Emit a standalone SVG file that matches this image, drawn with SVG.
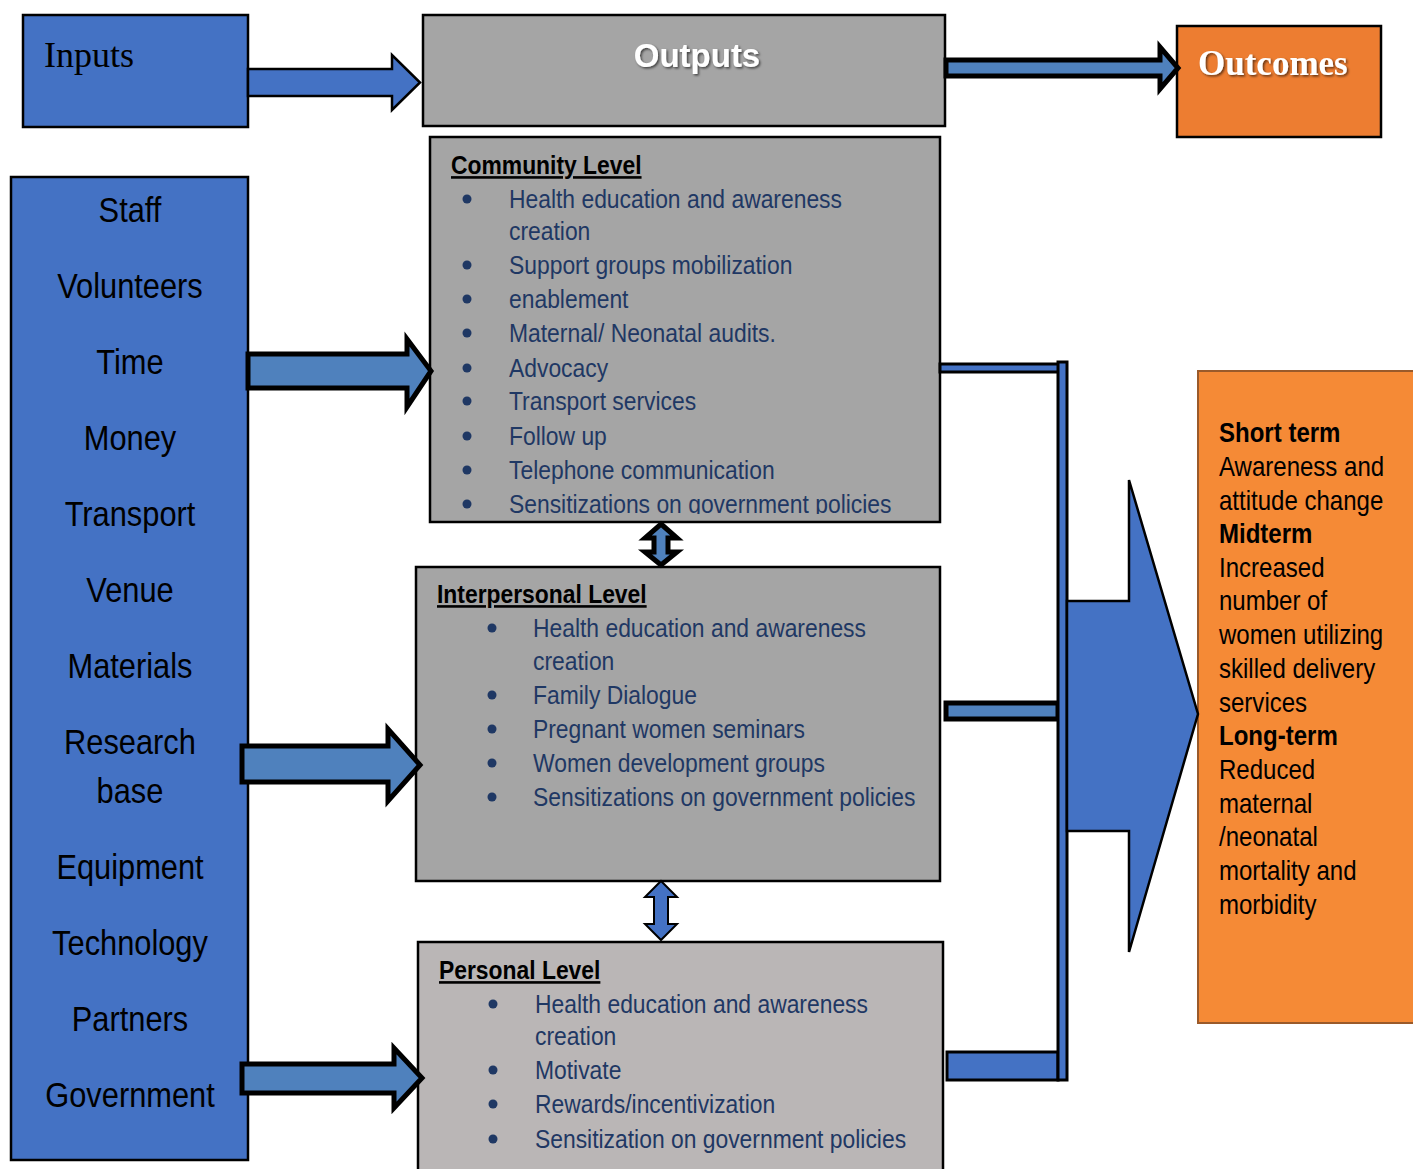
<svg xmlns="http://www.w3.org/2000/svg" width="1413" height="1169" viewBox="0 0 1413 1169">
<defs>
<style>
.n{font-family:"Liberation Sans",Arial,sans-serif;}
.inp{font-size:35px;fill:#000;text-anchor:middle;}
.t{font-size:26px;fill:#1F3864;}
.h{font-size:26px;font-weight:bold;fill:#000;text-decoration:underline;}
.o{font-size:27px;fill:#000;}
.ob{font-size:27px;fill:#000;font-weight:bold;}
.blt{fill:#1F3864;}
.box{stroke:#000;stroke-width:2.5;}
</style>
<filter id="sh" x="-10%" y="-10%" width="130%" height="130%"><feDropShadow dx="1.5" dy="1.5" stdDeviation="1" flood-color="#000" flood-opacity="0.6"/></filter>
<clipPath id="cc"><rect x="430" y="137" width="510" height="377"/></clipPath>
</defs>
<rect width="1413" height="1169" fill="#fff"/>

<g id="inputs">
<rect class="box" x="23" y="15" width="225" height="112" fill="#4472C4"/>
<text x="44" y="67" font-family="Liberation Serif,serif" font-size="36">Inputs</text>
</g>

<g id="outputs">
<rect class="box" x="423" y="15" width="522" height="111" fill="#A5A5A5"/>
<text x="697" y="67" text-anchor="middle" font-family="Liberation Sans,sans-serif" font-weight="bold" font-size="33" fill="#fff" filter="url(#sh)">Outputs</text>
</g>

<g id="outcomes">
<rect class="box" x="1177" y="26" width="204" height="111" fill="#ED7D31"/>
<text x="1198" y="75" font-family="Liberation Serif,serif" font-weight="bold" font-size="35" fill="#fff" filter="url(#sh)">Outcomes</text>
</g>

<g id="resources">
<rect class="box" x="11" y="177" width="237" height="983" fill="#4472C4"/>
<g class="n inp">
<text transform="translate(130,222) scale(0.88,1)">Staff</text>
<text transform="translate(130,298) scale(0.88,1)">Volunteers</text>
<text transform="translate(130,374) scale(0.88,1)">Time</text>
<text transform="translate(130,450) scale(0.88,1)">Money</text>
<text transform="translate(130,526) scale(0.88,1)">Transport</text>
<text transform="translate(130,602) scale(0.88,1)">Venue</text>
<text transform="translate(130,678) scale(0.88,1)">Materials</text>
<text transform="translate(130,754) scale(0.88,1)">Research</text>
<text transform="translate(130,803) scale(0.88,1)">base</text>
<text transform="translate(130,879) scale(0.88,1)">Equipment</text>
<text transform="translate(130,955) scale(0.88,1)">Technology</text>
<text transform="translate(130,1031) scale(0.88,1)">Partners</text>
<text transform="translate(130,1107) scale(0.88,1)">Government</text>
</g>
</g>

<g id="community">
<rect class="box" x="430" y="137" width="510" height="385" fill="#A5A5A5"/>
<g class="n" clip-path="url(#cc)">
<text class="h" transform="translate(451,174) scale(0.88,1)">Community Level</text>
<g class="blt"><circle cx="467" cy="199" r="4.5"/><circle cx="467" cy="265" r="4.5"/><circle cx="467" cy="299" r="4.5"/><circle cx="467" cy="333" r="4.5"/><circle cx="467" cy="368" r="4.5"/><circle cx="467" cy="401" r="4.5"/><circle cx="467" cy="436" r="4.5"/><circle cx="467" cy="470" r="4.5"/><circle cx="467" cy="504" r="4.5"/></g>
<text class="t" transform="translate(509,208) scale(0.88,1)">Health education and awareness</text>
<text class="t" transform="translate(509,240) scale(0.88,1)">creation</text>
<text class="t" transform="translate(509,274) scale(0.88,1)">Support groups mobilization</text>
<text class="t" transform="translate(509,308) scale(0.88,1)">enablement</text>
<text class="t" transform="translate(509,342) scale(0.88,1)">Maternal/ Neonatal audits.</text>
<text class="t" transform="translate(509,377) scale(0.88,1)">Advocacy</text>
<text class="t" transform="translate(509,410) scale(0.88,1)">Transport services</text>
<text class="t" transform="translate(509,445) scale(0.88,1)">Follow up</text>
<text class="t" transform="translate(509,479) scale(0.88,1)">Telephone communication</text>
<text class="t" transform="translate(509,513) scale(0.88,1)">Sensitizations on government policies</text>
</g>
</g>

<g id="interpersonal">
<rect class="box" x="416" y="567" width="524" height="314" fill="#A5A5A5"/>
<g class="n">
<text class="h" transform="translate(437,603) scale(0.88,1)">Interpersonal Level</text>
<g class="blt"><circle cx="492" cy="628" r="4.5"/><circle cx="492" cy="695" r="4.5"/><circle cx="492" cy="729" r="4.5"/><circle cx="492" cy="763" r="4.5"/><circle cx="492" cy="797" r="4.5"/></g>
<text class="t" transform="translate(533,637) scale(0.88,1)">Health education and awareness</text>
<text class="t" transform="translate(533,670) scale(0.88,1)">creation</text>
<text class="t" transform="translate(533,704) scale(0.88,1)">Family Dialogue</text>
<text class="t" transform="translate(533,738) scale(0.88,1)">Pregnant women seminars</text>
<text class="t" transform="translate(533,772) scale(0.88,1)">Women development groups</text>
<text class="t" transform="translate(533,806) scale(0.88,1)">Sensitizations on government policies</text>
</g>
</g>

<g id="personal">
<rect class="box" x="418" y="942" width="525" height="230" fill="#BAB6B6"/>
<g class="n">
<text class="h" transform="translate(439,979) scale(0.88,1)">Personal Level</text>
<g class="blt"><circle cx="493" cy="1004" r="4.5"/><circle cx="493" cy="1070" r="4.5"/><circle cx="493" cy="1104" r="4.5"/><circle cx="493" cy="1139" r="4.5"/></g>
<text class="t" transform="translate(535,1013) scale(0.88,1)">Health education and awareness</text>
<text class="t" transform="translate(535,1045) scale(0.88,1)">creation</text>
<text class="t" transform="translate(535,1079) scale(0.88,1)">Motivate</text>
<text class="t" transform="translate(535,1113) scale(0.88,1)">Rewards/incentivization</text>
<text class="t" transform="translate(535,1148) scale(0.88,1)">Sensitization on government policies</text>
</g>
</g>

<g id="outcome-details">
<rect x="1198" y="371" width="220" height="652" fill="#F58A36" stroke="#9a5a2a" stroke-width="2"/>
<g class="n">
<text class="ob" transform="translate(1219,442) scale(0.89,1)">Short term</text>
<text class="o" transform="translate(1219,476) scale(0.89,1)">Awareness and</text>
<text class="o" transform="translate(1219,510) scale(0.89,1)">attitude change</text>
<text class="ob" transform="translate(1219,543) scale(0.89,1)">Midterm</text>
<text class="o" transform="translate(1219,577) scale(0.89,1)">Increased</text>
<text class="o" transform="translate(1219,610) scale(0.89,1)">number of</text>
<text class="o" transform="translate(1219,644) scale(0.89,1)">women utilizing</text>
<text class="o" transform="translate(1219,678) scale(0.89,1)">skilled delivery</text>
<text class="o" transform="translate(1219,712) scale(0.89,1)">services</text>
<text class="ob" transform="translate(1219,745) scale(0.89,1)">Long-term</text>
<text class="o" transform="translate(1219,779) scale(0.89,1)">Reduced</text>
<text class="o" transform="translate(1219,813) scale(0.89,1)">maternal</text>
<text class="o" transform="translate(1219,846) scale(0.89,1)">/neonatal</text>
<text class="o" transform="translate(1219,880) scale(0.89,1)">mortality and</text>
<text class="o" transform="translate(1219,914) scale(0.89,1)">morbidity</text>
</g>
</g>

<g id="connectors" stroke="#000" stroke-linejoin="miter">
<path d="M248,69 H392 V55 L420,82.5 L392,110 V96 H248 Z" fill="#4472C4" stroke-width="2.5"/>
<path d="M946,60 H1160 V47 L1178,68 L1160,89 V76 H946 Z" fill="#4F81BD" stroke-width="5"/>
<path d="M248,354 H407 V339 L431,371 L407,407 V388 H248 Z" fill="#4F81BD" stroke-width="5"/>
<path d="M242,746 H388 V729 L420,765 L388,801 V782 H242 Z" fill="#4F81BD" stroke-width="5"/>
<path d="M242,1064 H394 V1048 L422,1078 L394,1108 V1093 H242 Z" fill="#4F81BD" stroke-width="5"/>
<path d="M661,524 L677,538 H668 V552 H677 L661,565 L645,552 H654 V538 H645 Z" fill="#4F81BD" stroke-width="5"/>
<path d="M661,881 L677,897 H668 V924 H677 L661,940 L645,924 H654 V897 H645 Z" fill="#4472C4" stroke-width="2"/>
<rect x="940" y="364" width="120" height="8" fill="#4472C4" stroke-width="3"/>
<rect x="946" y="703" width="112" height="16" fill="#4F81BD" stroke-width="5"/>
<rect x="947" y="1052" width="111" height="28" fill="#4472C4" stroke-width="3"/>
<rect x="1058" y="362" width="9" height="718" fill="#4472C4" stroke-width="3"/>
<path d="M1067,601 H1129 V480 L1198,714 L1129,952 V831 H1067 Z" fill="#4472C4" stroke-width="2.5"/>
</g>
</svg>
